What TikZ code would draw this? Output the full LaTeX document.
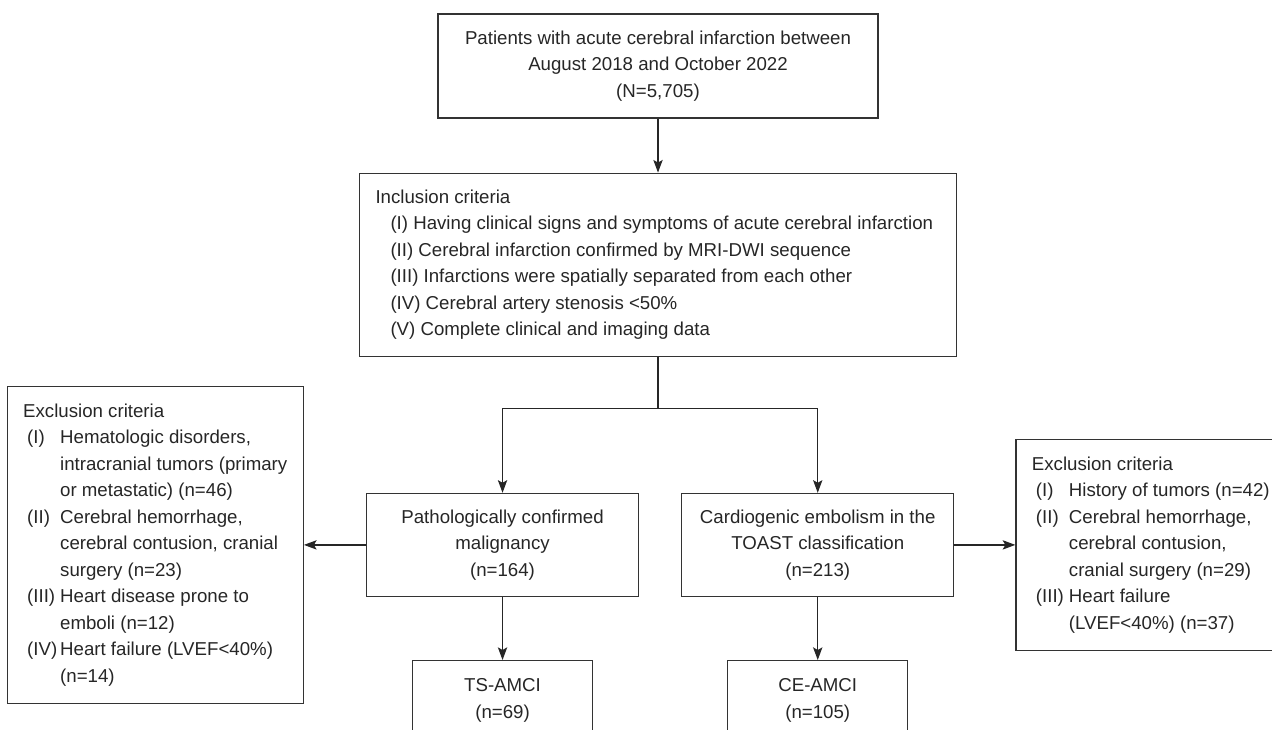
\documentclass[tikz,border=0pt]{standalone}
\usepackage{fontspec}
\setmainfont{Liberation Sans}
\usetikzlibrary{arrows.meta,positioning}

% first line of a left-aligned box fixes its width
\newcommand{\boxhead}[2]{\makebox[#1][l]{#2}}
\newcommand{\critlbl}[1]{\hspace*{3pt}\makebox[24.75pt][l]{#1}}
\newcommand{\critcont}{\hspace*{27.75pt}}

\begin{document}
\begin{tikzpicture}[
  box/.style={draw=black!80, line width=0.9pt, text=black!85, align=center, inner sep=0pt,
    font=\fontsize{14}{19.9}\selectfont},
  critbox/.style={box, align=left, inner xsep=12pt},
  midbox/.style={box, minimum width=204pt, minimum height=77.25pt},
  endbox/.style={box, minimum width=135pt, minimum height=60pt},
  arrow/.style={-{Stealth[length=9.5pt, width=7pt, inset=2pt]}, draw=black!85, line width=0.9pt},
  line/.style={draw=black!85, line width=0.9pt}]
\useasboundingbox (0,0) rectangle (954pt,-546.75pt);
\node[box, minimum width=330pt, minimum height=78pt] (top) at (493.5pt,-49.5pt)
  {Patients with acute cerebral infarction between\\August 2018 and October 2022\\(N=5,705)};
\node[critbox, minimum height=137.25pt, below=40.5pt of top] (incl)
  {\boxhead{423.75pt}{Inclusion criteria}\\
   \hspace*{11.25pt}(I) Having clinical signs and symptoms of acute cerebral infarction\\
   \hspace*{11.25pt}(II) Cerebral infarction confirmed by MRI-DWI sequence\\
   \hspace*{11.25pt}(III) Infarctions were spatially separated from each other\\
   \hspace*{11.25pt}(IV) Cerebral artery stenosis <50\%\\
   \hspace*{11.25pt}(V) Complete clinical and imaging data};
\coordinate[below=39pt of incl] (split);
\node[midbox, below=102pt of incl, xshift=-116.6pt] (mal)
  {Pathologically confirmed\\malignancy\\(n=164)};
\node[midbox, right=31.5pt of mal] (card)
  {Cardiogenic embolism in the\\TOAST classification\\(n=213)};
\node[endbox, below=47.25pt of mal] (ts) {TS-AMCI\\(n=69)};
\node[endbox, below=47.25pt of card] (ce) {CE-AMCI\\(n=105)};
\node[critbox, minimum height=237.75pt, left=46.5pt of mal] (exl)
  {\boxhead{196.5pt}{Exclusion criteria}\\
   \critlbl{(I)}Hematologic disorders,\\
   \critcont intracranial tumors (primary\\
   \critcont or metastatic) (n=46)\\
   \critlbl{(II)}Cerebral hemorrhage,\\
   \critcont cerebral contusion, cranial\\
   \critcont surgery (n=23)\\
   \critlbl{(III)}Heart disease prone to\\
   \critcont emboli (n=12)\\
   \critlbl{(IV)}Heart failure (LVEF<40\%)\\
   \critcont (n=14)};
\node[critbox, minimum height=158.25pt, right=45.75pt of card] (exr)
  {\boxhead{190pt}{Exclusion criteria}\\
   \critlbl{(I)}History of tumors (n=42)\\
   \critlbl{(II)}Cerebral hemorrhage,\\
   \critcont cerebral contusion,\\
   \critcont cranial surgery (n=29)\\
   \critlbl{(III)}Heart failure\\
   \critcont (LVEF<40\%) (n=37)};
\draw[arrow] (top) -- (incl);
\draw[line] (incl) -- (split);
\draw[arrow] (split) -| (mal);
\draw[arrow] (split) -| (card);
\draw[arrow] (mal) -- (ts);
\draw[arrow] (card) -- (ce);
\draw[arrow] (mal) -- (exl);
\draw[arrow] (card) -- (exr);
\end{tikzpicture}
\end{document}
